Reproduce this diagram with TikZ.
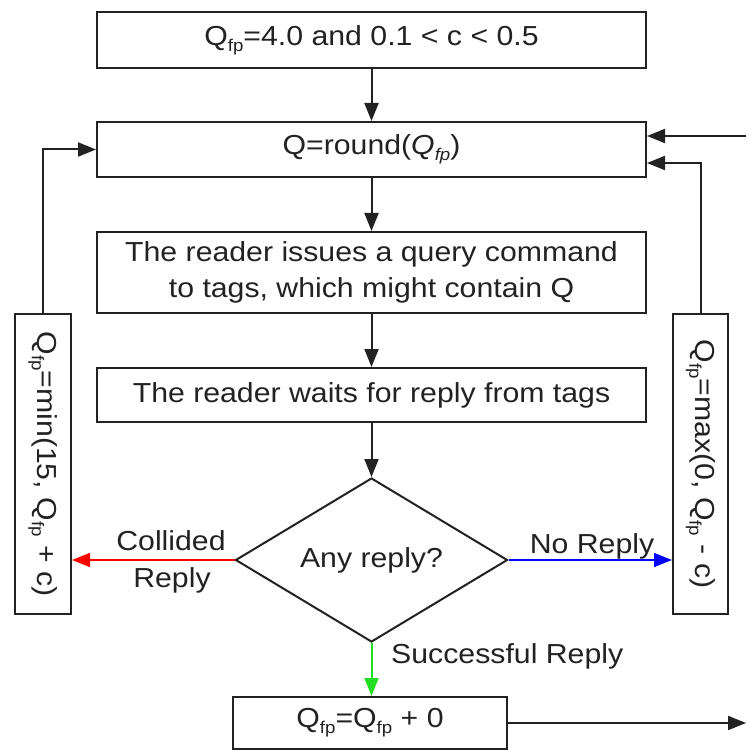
\documentclass[tikz,border=0pt]{standalone}
\usepackage{fontspec}
\setmainfont{Liberation Sans}[FakeStretch=1.1]
\usetikzlibrary{arrows.meta,shapes.geometric,calc}
\newcommand{\mysub}[1]{\raisebox{-0.22em}{\fontsize{17}{17}\selectfont #1}}
\definecolor{ink}{HTML}{222222}
\definecolor{grn}{HTML}{22DD22}
\begin{document}
\begin{tikzpicture}[x=1pt,y=-1pt,
  every node/.style={font=\fontsize{27.5}{36}\selectfont, text=ink},
  box/.style={draw=ink, line width=2pt, rectangle, inner sep=0pt, align=center},
  dia/.style={draw=ink, line width=2pt, diamond, inner sep=0pt, minimum width=272pt, minimum height=164pt},
  flow/.style={draw=ink, line width=2pt, -{Triangle[length=18pt,width=14pt]}},
  cflow/.style={line width=1.4pt, -{Triangle[length=18pt,width=14pt]}},
  lbl/.style={anchor=base, inner sep=0pt}
]
\useasboundingbox (0,0) rectangle (746,751);

\node[box, minimum width=549pt, minimum height=56pt] (top) at (371.5,40) {Q\mysub{fp}=4.0 and 0.1 < c < 0.5};
\node[box, minimum width=549pt, minimum height=55pt] (round) at (371.5,149.5) {Q=round(\textit{Q\mysub{fp}})};
\node[box, minimum width=549pt, minimum height=81pt] (query) at (371.5,272.5) {The reader issues a query command\\to tags, which might contain Q};
\node[box, minimum width=549pt, minimum height=54pt] (wait) at (371.5,395) {The reader waits for reply from tags};
\node[dia] (any) at (371.5,560) {};
\node[lbl] (anyt) at (371.5,567) {Any reply?};
\node[box, rotate=-90, minimum width=300pt, minimum height=56pt] (left) at (43,464) {Q\mysub{fp}=min(15, Q\mysub{fp} + c)};
\node[box, rotate=-90, minimum width=300pt, minimum height=55pt] (right) at (700.5,464) {Q\mysub{fp}=max(0, Q\mysub{fp} - c)};
\node[box, minimum width=274pt, minimum height=52pt] (bottom) at (370,723) {Q\mysub{fp}=Q\mysub{fp} + 0};

\coordinate (loopin) at (746,136);
\coordinate (loopout) at (746,723);

\draw[flow] (top) -- (round);
\draw[flow] (round) -- (query);
\draw[flow] (query) -- (wait);
\draw[flow] (wait.south) -- (any.north);
\draw[flow] (left.west) |- (round.west);
\draw[flow] (right.west) |- ([yshift=-13.5pt]round.east);
\draw[flow] (loopin) -- ([yshift=13.5pt]round.east);
\draw[flow] (bottom.east) -- (loopout);

\draw[cflow, red] (any.west) -- (any.west -| left.north);
\draw[cflow, blue] (any.east) -- (any.east -| right.south);
\draw[cflow, grn, line width=2pt] (any.south) -- (any.south |- bottom.north);

\node[lbl] (coll) at (171,550) {Collided};
\node[lbl] (collr) at (172,587) {Reply};
\node[lbl] (norep) at (592,553) {No Reply};
\node[lbl, anchor=base west] (succ) at (391,663) {Successful Reply};
\end{tikzpicture}
\end{document}
